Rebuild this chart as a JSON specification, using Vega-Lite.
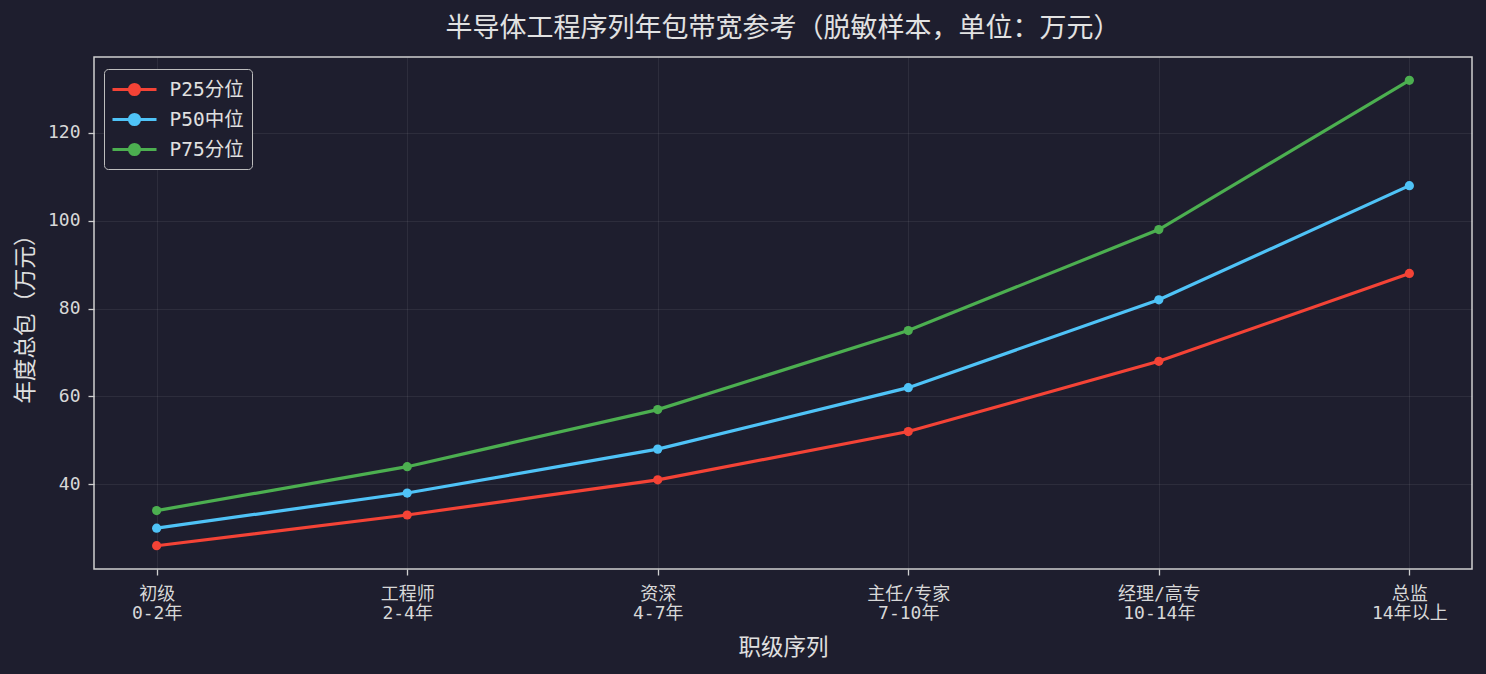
{
  "$schema": "https://vega.github.io/schema/vega-lite/v6.json",
  "width": 1378,
  "height": 512,
  "autosize": {"type": "none"},
  "padding": {"left": 94, "top": 57, "right": 14, "bottom": 105},
  "background": "#1e1e2e",
  "title": {
    "text": "半导体工程序列年包带宽参考（脱敏样本，单位：万元）",
    "anchor": "middle",
    "fontSize": 27,
    "fontWeight": "normal",
    "font": "DejaVu Sans Mono, Noto Sans CJK SC",
    "color": "#e2e2e2",
    "offset": 14
  },
  "config": {
    "font": "DejaVu Sans Mono, Noto Sans CJK SC",
    "view": {"stroke": "#cfcfcf", "strokeWidth": 1.5},
    "axis": {
      "domain": false,
      "gridColor": "#ffffff",
      "gridOpacity": 0.07,
      "gridWidth": 1,
      "tickColor": "#cfcfcf",
      "tickSize": 6,
      "tickWidth": 1.3,
      "labelColor": "#d8d8d8",
      "labelFontSize": 18,
      "titleColor": "#e0e0e0",
      "titleFontSize": 22.5,
      "titleFontWeight": "normal"
    }
  },
  "data": {
    "values": [
      {"level": "初级|0-2年", "series": "P25分位", "value": 26},
      {"level": "工程师|2-4年", "series": "P25分位", "value": 33},
      {"level": "资深|4-7年", "series": "P25分位", "value": 41},
      {"level": "主任/专家|7-10年", "series": "P25分位", "value": 52},
      {"level": "经理/高专|10-14年", "series": "P25分位", "value": 68},
      {"level": "总监|14年以上", "series": "P25分位", "value": 88},
      {"level": "初级|0-2年", "series": "P50中位", "value": 30},
      {"level": "工程师|2-4年", "series": "P50中位", "value": 38},
      {"level": "资深|4-7年", "series": "P50中位", "value": 48},
      {"level": "主任/专家|7-10年", "series": "P50中位", "value": 62},
      {"level": "经理/高专|10-14年", "series": "P50中位", "value": 82},
      {"level": "总监|14年以上", "series": "P50中位", "value": 108},
      {"level": "初级|0-2年", "series": "P75分位", "value": 34},
      {"level": "工程师|2-4年", "series": "P75分位", "value": 44},
      {"level": "资深|4-7年", "series": "P75分位", "value": 57},
      {"level": "主任/专家|7-10年", "series": "P75分位", "value": 75},
      {"level": "经理/高专|10-14年", "series": "P75分位", "value": 98},
      {"level": "总监|14年以上", "series": "P75分位", "value": 132}
    ]
  },
  "mark": {"type": "line", "strokeWidth": 3.2, "point": {"filled": true, "size": 85, "opacity": 1}},
  "encoding": {
    "x": {
      "field": "level",
      "type": "ordinal",
      "sort": null,
      "scale": {"type": "point", "padding": 0.25},
      "axis": {
        "title": "职级序列",
        "labelAngle": 0,
        "labelExpr": "split(datum.label, '|')",
        "labelPadding": 10,
        "labelLineHeight": 19,
        "titlePadding": 14,
        "grid": true
      }
    },
    "y": {
      "field": "value",
      "type": "quantitative",
      "scale": {"domain": [20.7, 137.3], "nice": false, "zero": false},
      "axis": {
        "title": "年度总包（万元）",
        "values": [40, 60, 80, 100, 120],
        "labelPadding": 8,
        "titlePadding": 10,
        "grid": true
      }
    },
    "color": {
      "field": "series",
      "type": "nominal",
      "scale": {"domain": ["P25分位", "P50中位", "P75分位"], "range": ["#f44336", "#4fc3f7", "#4caf50"]},
      "legend": {
        "title": null,
        "orient": "none",
        "legendX": 10,
        "legendY": 12,
        "padding": 7.5,
        "strokeColor": "#bdbdbd",
        "fillColor": "#1e1e2e",
        "cornerRadius": 4,
        "labelFontSize": 19.5,
        "labelColor": "#e0e0e0",
        "symbolType": "M-2,0L2,0M0.45,0A0.45,0.45,0,1,1,-0.45,0A0.45,0.45,0,1,1,0.45,0Z",
        "symbolSize": 484,
        "symbolStrokeWidth": 3.2,
        "symbolOffset": 10,
        "labelOffset": 22,
        "rowPadding": 5,
        "encode": {
          "symbols": {
            "update": {
              "fill": {"scale": "color", "field": "value"},
              "stroke": {"scale": "color", "field": "value"},
              "fillOpacity": {"value": 1},
              "opacity": {"value": 1}
            }
          }
        }
      }
    }
  }
}
